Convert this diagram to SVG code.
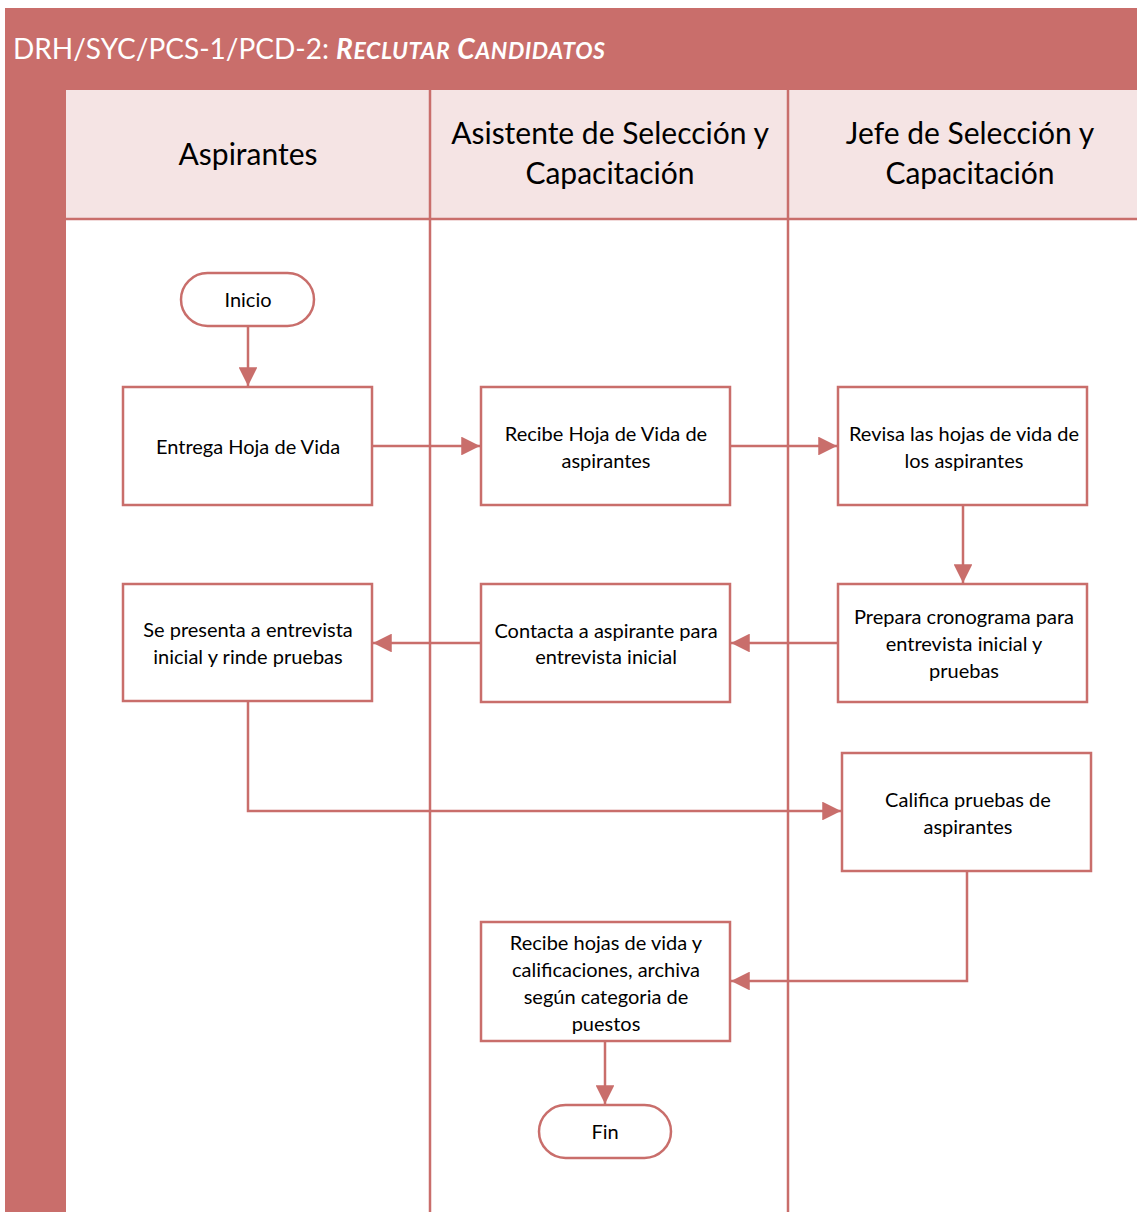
<svg xmlns="http://www.w3.org/2000/svg" width="1137" height="1212" viewBox="0 0 1137 1212">
<style>
.band{fill:#C96E6B}
.hdr{fill:#F5E4E4}
.lane{stroke:#C96E6B;stroke-width:2.5;fill:none}
.box{fill:#fff;stroke:#C96E6B;stroke-width:2.5}
.t{font-family:Lato,"Liberation Sans",sans-serif;font-size:20px;fill:#000;text-anchor:middle}
.h{font-family:Lato,"Liberation Sans",sans-serif;font-size:30px;fill:#000;text-anchor:middle}
.c{stroke:#C96E6B;stroke-width:2.5;fill:none;marker-end:url(#ah)}
</style>
<defs>
<marker id="ah" viewBox="0 0 10 10" refX="10" refY="5" markerWidth="7.5" markerHeight="7.5" markerUnits="strokeWidth" orient="auto">
<path d="M0,0 L10,5 L0,10 Z" fill="#C96E6B"/>
</marker>
</defs>
<rect width="1137" height="1212" fill="#fff"/>
<g id="pool">
<rect class="band" x="5" y="8" width="1132" height="82"/>
<rect class="band" x="5" y="8" width="61" height="1204"/>
<rect class="hdr" x="66" y="90" width="1071" height="129"/>
<line class="lane" x1="66" y1="219" x2="1137" y2="219"/>
<line class="lane" x1="430" y1="90" x2="430" y2="1212"/>
<line class="lane" x1="788" y1="90" x2="788" y2="1212"/>
<text x="13" y="59" font-family="Lato,'Liberation Sans',sans-serif" font-size="28" fill="#fff">DRH/SYC/PCS-1/PCD-2: <tspan font-weight="bold" font-style="italic" letter-spacing="0.6">R<tspan font-size="23">ECLUTAR</tspan> C<tspan font-size="23">ANDIDATOS</tspan></tspan></text>
<text class="h" x="248" y="165">Aspirantes</text>
<text class="h" x="610" y="144">Asistente de Selección y</text>
<text class="h" x="610" y="184">Capacitación</text>
<text class="h" x="970" y="144">Jefe de Selección y</text>
<text class="h" x="970" y="184">Capacitación</text>
</g>
<g id="connectors">
<path class="c" d="M248,326 V386"/>
<path class="c" d="M372,446 H480"/>
<path class="c" d="M730,446 H837"/>
<path class="c" d="M963,505 V583"/>
<path class="c" d="M838,643 H731"/>
<path class="c" d="M481,643 H373"/>
<path class="c" d="M248,701 V811 H841"/>
<path class="c" d="M967,871 V981 H731"/>
<path class="c" d="M605,1041 V1104"/>
</g>
<g id="inicio"><rect class="box" x="181" y="273" width="133" height="53" rx="26.5"/><text class="t" x="248" y="307">Inicio</text></g>
<g id="entrega"><rect class="box" x="123" y="387" width="249" height="118"/><text class="t" x="248" y="454">Entrega Hoja de Vida</text></g>
<g id="recibe"><rect class="box" x="481" y="387" width="249" height="118"/><text class="t" x="606" y="441">Recibe Hoja de Vida de</text><text class="t" x="606" y="468">aspirantes</text></g>
<g id="revisa"><rect class="box" x="838" y="387" width="249" height="118"/><text class="t" x="964" y="441">Revisa las hojas de vida de</text><text class="t" x="964" y="468">los aspirantes</text></g>
<g id="presenta"><rect class="box" x="123" y="584" width="249" height="117"/><text class="t" x="248" y="637">Se presenta a entrevista</text><text class="t" x="248" y="664">inicial y rinde pruebas</text></g>
<g id="contacta"><rect class="box" x="481" y="584" width="249" height="118"/><text class="t" x="606" y="638">Contacta a aspirante para</text><text class="t" x="606" y="664">entrevista inicial</text></g>
<g id="prepara"><rect class="box" x="838" y="584" width="249" height="118"/><text class="t" x="964" y="624">Prepara cronograma para</text><text class="t" x="964" y="651">entrevista inicial y</text><text class="t" x="964" y="678">pruebas</text></g>
<g id="califica"><rect class="box" x="842" y="753" width="249" height="118"/><text class="t" x="968" y="807">Califica pruebas de</text><text class="t" x="968" y="834">aspirantes</text></g>
<g id="archiva"><rect class="box" x="481" y="922" width="249" height="119"/><text class="t" x="606" y="950">Recibe hojas de vida y</text><text class="t" x="606" y="977">calificaciones, archiva</text><text class="t" x="606" y="1004">según categoria de</text><text class="t" x="606" y="1031">puestos</text></g>
<g id="fin"><rect class="box" x="539" y="1105" width="132" height="53" rx="26.5"/><text class="t" x="605" y="1139">Fin</text></g>
</svg>
